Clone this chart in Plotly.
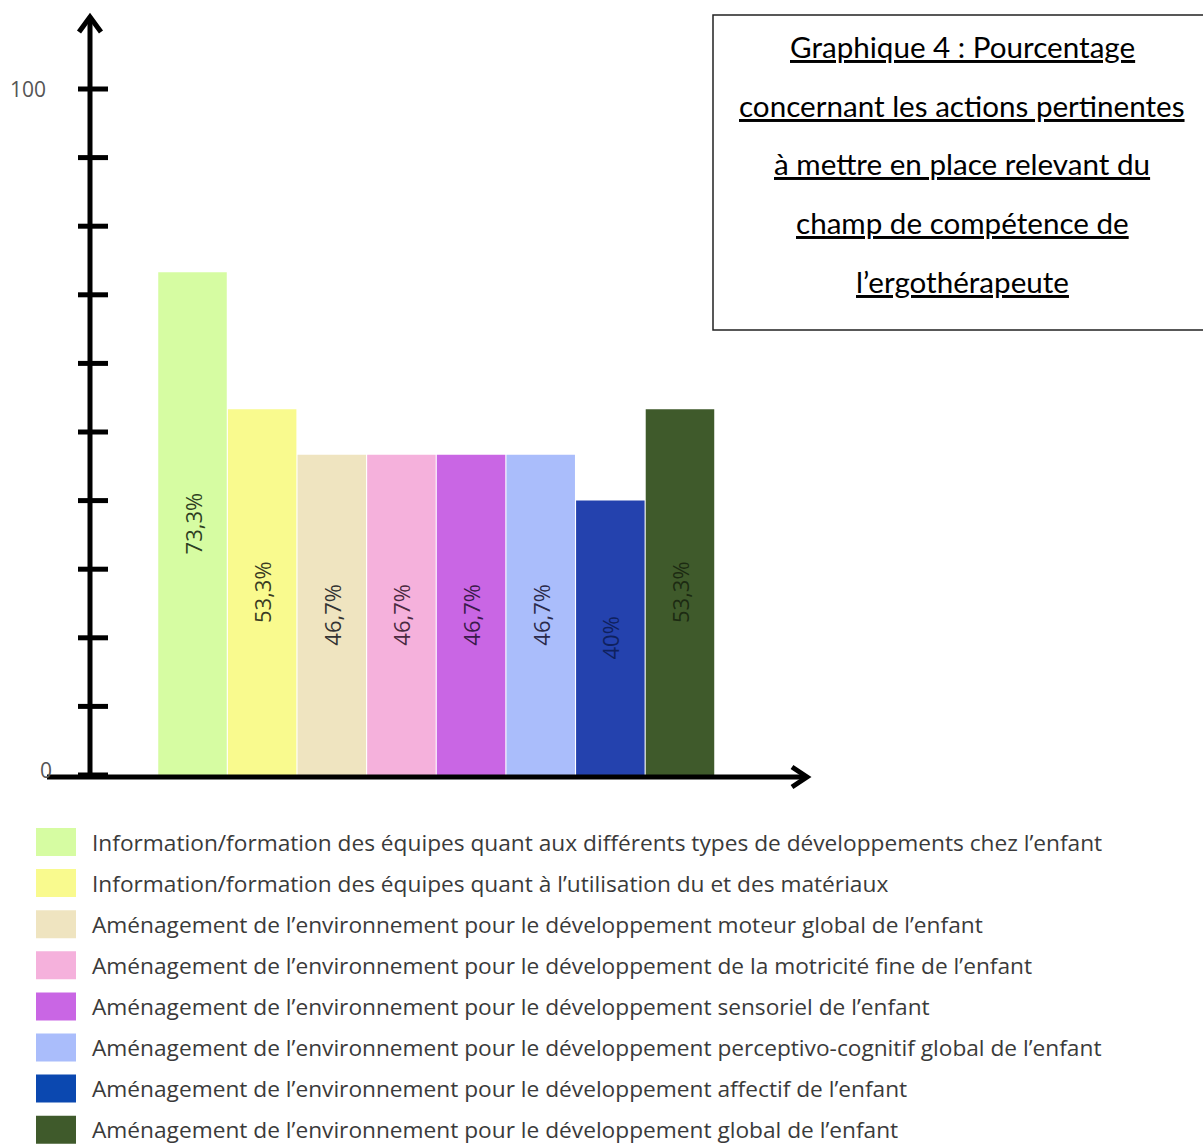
import plotly.graph_objects as go

# ---------------- data ----------------
categories = [
    "Information/formation des équipes quant aux différents types de développements chez l’enfant",
    "Information/formation des équipes quant à l’utilisation du et des matériaux",
    "Aménagement de l’environnement pour le développement moteur global de l’enfant",
    "Aménagement de l’environnement pour le développement de la motricité fine de l’enfant",
    "Aménagement de l’environnement pour le développement sensoriel de l’enfant",
    "Aménagement de l’environnement pour le développement perceptivo-cognitif global de l’enfant",
    "Aménagement de l’environnement pour le développement affectif de l’enfant",
    "Aménagement de l’environnement pour le développement global de l’enfant",
]
values = [73.3, 53.3, 46.7, 46.7, 46.7, 46.7, 40.0, 53.3]
value_labels = ["73,3%", "53,3%", "46,7%", "46,7%", "46,7%", "46,7%", "40%", "53,3%"]
bar_colors = ["#d6fca2", "#f9fa8e", "#efe4c0", "#f5b1dc", "#c966e4", "#aabdfb", "#2442ae", "#3f5a2b"]
legend_colors = ["#d6fca2", "#f9fa8e", "#efe4c0", "#f5b1dc", "#c966e4", "#aabdfb", "#0b48b0", "#3f5a2b"]
label_colors = ["#2e3f22", "#3a3a22", "#333333", "#4a2a40", "#3a1a4a", "#2a2a4a", "#0f215e", "#1c2a12"]
y_ticks = [0, 10, 20, 30, 40, 50, 60, 70, 80, 90, 100]
y_tick_labels = {0: "0", 100: "100"}
title_lines = [
    "Graphique 4 : Pourcentage",
    "concernant les actions pertinentes",
    "à mettre en place relevant du",
    "champ de compétence de",
    "l’ergothérapeute",
]

# ---------------- layout constants (pixels) ----------------
W, H = 1203, 1144
def px(x):
    return x / W
def py(y):
    return 1 - y / H

ZERO_PX, HUNDRED_PX = 775, 89
unit = (ZERO_PX - HUNDRED_PX) / 100.0
y_max = ZERO_PX / unit
y_min = -(H - ZERO_PX) / unit

first_center, spacing = 192.5, 69.64
x_min = -first_center / spacing
x_max = (W - first_center) / spacing

fig = go.Figure()
fig.add_trace(go.Bar(
    x=categories, y=values,
    marker=dict(color=bar_colors, line=dict(width=0)),
    text=value_labels, textposition="inside", insidetextanchor="middle",
    textangle=-90,
    insidetextfont=dict(family="Open Sans", size=22, color=label_colors),
    hoverinfo="skip", showlegend=False,
))

shapes = []
annotations = []
AX = dict(color="black", width=5)

# y axis line with arrow
shapes.append(dict(type="line", xref="paper", yref="paper",
                   x0=px(90), x1=px(90), y0=py(779), y1=py(17), line=AX))
shapes.append(dict(type="path", xref="paper", yref="paper",
                   path=f"M {px(79)},{py(32)} L {px(90)},{py(17)} L {px(101)},{py(32)}",
                   line=AX))
# x axis line with arrow
shapes.append(dict(type="line", xref="paper", yref="paper",
                   x0=px(47), x1=px(806), y0=py(777), y1=py(777), line=AX))
shapes.append(dict(type="path", xref="paper", yref="paper",
                   path=f"M {px(792)},{py(767)} L {px(807)},{py(777)} L {px(792)},{py(787)}",
                   line=AX))
# crossing tick marks
for t in y_ticks:
    shapes.append(dict(type="line", xref="paper", yref="y",
                       x0=px(78), x1=px(108), y0=t, y1=t, line=AX))
    if t in y_tick_labels:
        annotations.append(dict(
            text=y_tick_labels[t], xref="paper", yref="y",
            x=px(48) if t == 100 else px(54), y=t + (0 if t == 100 else 0.7),
            xanchor="right", yanchor="middle", showarrow=False,
            font=dict(family="Open Sans", size=21, color="#555555")))

# title box
shapes.append(dict(type="rect", xref="paper", yref="paper",
                   x0=px(713), x1=px(1205), y0=py(330), y1=py(15),
                   line=dict(color="#222222", width=1.5), fillcolor="white"))
title_y0, title_step = 47, 58.5
for i, line in enumerate(title_lines):
    annotations.append(dict(
        text=f"<u>{line}</u>", xref="paper", yref="paper",
        x=px(962), y=py(title_y0 + i * title_step),
        xanchor="center", yanchor="middle", showarrow=False,
        font=dict(family="Lato", size=29.6, color="black")))

# legend
leg_y0, leg_step = 842, 41.1
for i, (cat, col) in enumerate(zip(categories, legend_colors)):
    yc = leg_y0 + i * leg_step
    shapes.append(dict(type="rect", xref="paper", yref="paper",
                       x0=px(36), x1=px(76), y0=py(yc + 14), y1=py(yc - 14),
                       line=dict(width=0), fillcolor=col))
    annotations.append(dict(
        text=cat, xref="paper", yref="paper", x=px(90), y=py(yc),
        xanchor="left", yanchor="middle", showarrow=False,
        font=dict(family="Open Sans", size=22.7, color="#3a3a3a")))

fig.update_layout(
    width=W, height=H,
    margin=dict(l=0, r=0, t=0, b=0, pad=0),
    paper_bgcolor="white", plot_bgcolor="white",
    bargap=0.016,
    xaxis=dict(range=[x_min, x_max], visible=False, type="category"),
    yaxis=dict(range=[y_min, y_max], visible=False),
    shapes=shapes, annotations=annotations,
    uniformtext=dict(minsize=22, mode="show"),
)

fig.write_html("out.html")
